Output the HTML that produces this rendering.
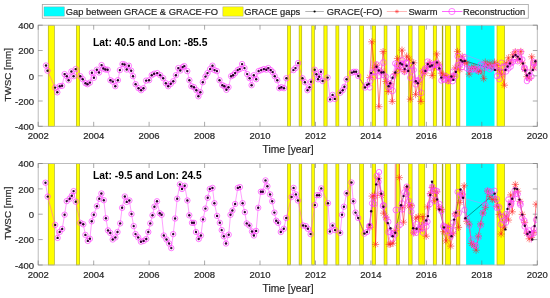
<!DOCTYPE html>
<html><head><meta charset="utf-8"><style>
html,body{margin:0;padding:0;background:#fff;width:550px;height:298px;overflow:hidden}
svg{display:block;will-change:transform}
.t{stroke:#262626;stroke-width:0.2px;font-family:"Liberation Sans",sans-serif;font-size:9.5px;fill:#262626}
.l{stroke:#262626;stroke-width:0.2px;font-family:"Liberation Sans",sans-serif;font-size:10.3px;fill:#262626}
.y{stroke:#262626;stroke-width:0.2px;font-family:"Liberation Sans",sans-serif;font-size:9.8px;fill:#262626}
.g{stroke:#262626;stroke-width:0.2px;font-family:"Liberation Sans",sans-serif;font-size:9.35px;fill:#262626}
.b{font-family:"Liberation Sans",sans-serif;font-size:10.3px;font-weight:bold;fill:#000}
</style></head><body>
<svg width="550" height="298" viewBox="0 0 550 298">
<rect x="48.2" y="25.2" width="6.1" height="101.1" fill="#ffff00" stroke="#8f8f00" stroke-width="0.5"/><rect x="76.4" y="25.2" width="3.3" height="101.1" fill="#ffff00" stroke="#8f8f00" stroke-width="0.5"/><rect x="287.5" y="25.2" width="3.2" height="101.1" fill="#ffff00" stroke="#8f8f00" stroke-width="0.5"/><rect x="299.1" y="25.2" width="2.7" height="101.1" fill="#ffff00" stroke="#8f8f00" stroke-width="0.5"/><rect x="311.8" y="25.2" width="2.6" height="101.1" fill="#ffff00" stroke="#8f8f00" stroke-width="0.5"/><rect x="323.9" y="25.2" width="3.2" height="101.1" fill="#ffff00" stroke="#8f8f00" stroke-width="0.5"/><rect x="335.9" y="25.2" width="3" height="101.1" fill="#ffff00" stroke="#8f8f00" stroke-width="0.5"/><rect x="347.5" y="25.2" width="3" height="101.1" fill="#ffff00" stroke="#8f8f00" stroke-width="0.5"/><rect x="359.7" y="25.2" width="3.9" height="101.1" fill="#ffff00" stroke="#8f8f00" stroke-width="0.5"/><rect x="372.1" y="25.2" width="3.6" height="101.1" fill="#ffff00" stroke="#8f8f00" stroke-width="0.5"/><rect x="384.1" y="25.2" width="2.9" height="101.1" fill="#ffff00" stroke="#8f8f00" stroke-width="0.5"/><rect x="396.4" y="25.2" width="3.1" height="101.1" fill="#ffff00" stroke="#8f8f00" stroke-width="0.5"/><rect x="408.6" y="25.2" width="3.5" height="101.1" fill="#ffff00" stroke="#8f8f00" stroke-width="0.5"/><rect x="418.8" y="25.2" width="6" height="101.1" fill="#ffff00" stroke="#8f8f00" stroke-width="0.5"/><rect x="433.2" y="25.2" width="3.2" height="101.1" fill="#ffff00" stroke="#8f8f00" stroke-width="0.5"/><rect x="441.9" y="25.2" width="1.3" height="101.1" fill="#a5a510"/><rect x="445.5" y="25.2" width="5" height="101.1" fill="#ffff00" stroke="#8f8f00" stroke-width="0.5"/><rect x="456.4" y="25.2" width="3.5" height="101.1" fill="#ffff00" stroke="#8f8f00" stroke-width="0.5"/><rect x="497" y="25.2" width="7.6" height="101.1" fill="#ffff00" stroke="#8f8f00" stroke-width="0.5"/><rect x="466.1" y="25.2" width="28.4" height="101.1" fill="#00ffff"/><clipPath id="c1"><rect x="38.2" y="25.2" width="499.1" height="101.1"/></clipPath><g clip-path="url(#c1)"><polyline points="356.1,71.8 358.3,76 365,87.5 367.1,84.8 368.7,83.9 371.1,73.1 376.5,66.8 378.8,70.5 381.5,72.5 383.5,72.2 388.6,86.2 390.2,83.2 392.6,77.8 395.3,72.5 400.3,63.3 402.1,64.4 404.7,69.1 406.6,65.8 408.2,70.9 413.3,62.8 415.8,81.2 417.8,83.2 425.4,70.9 427.8,64.1 429.9,66.4 431.9,65.5 437,62.4 439.3,68.4 441.3,77.6 451.4,76.5 453.4,79.9 455.8,71.9 460.8,60.1 462.5,61.4 464.8,60.9 494.9,69.9 505.5,69.9 507.6,66.5 509.9,63.4 513.1,56.8 515.5,55 517.6,56.6 519.7,59 523,63.4 525.2,70.5 526.9,75.4 529.5,73.2 532.8,69.9 535.4,61.2" fill="none" stroke="#000" stroke-width="0.4" /><polyline points="369.8,77.5 371.8,41.8 374.4,67.9 376.7,65.2 378.9,106.7 381.3,71.1 383.1,51.6 386,81.5 388.3,91.5 390.6,83.9 392.2,101.4 395.2,73.8 397.5,58.4 399.8,69.3 402,50.1 404.4,71.6 406.7,56.1 409.1,59.1 410.3,99.2 413.7,62.8 415.6,94.6 418.3,82.1 420.9,101.4 422.9,71.1 425.2,73 427.5,67.2 429.9,62.4 432.2,75.6 434.5,67.3 436.7,53.9 439.1,64.1 441.4,73.2 443.7,75.3 446,76.4 448.3,80.6 450.7,78.1 453,76.5 455.3,67.9 457.5,51.4 459.9,69.6 462.2,56.3 464.5,62.4 466.8,63.2 469.1,74.1 471.4,68.6 473.8,66.8 476.1,69 478.4,71.4 480.7,70.9 483.7,78.7 485.3,62.1 487.6,64.9 489.9,63.3 492.2,66.8 494.6,62.1 496.9,65.5 499.2,70.6 501.5,74.2 504.4,85.2 506.1,63.2 508.4,57.8 510.7,62.8 513,54.7 515.3,51.8 517.7,59.6 520.8,51.4 522.3,62.9 524.6,69.3 526.9,76.7 529.2,78.2 531.7,56.8 533.8,68 536.1,62.8" fill="none" stroke="#ff2a2a" stroke-width="0.6" /><path d="M366.2 77.5L373.4 77.5M367.2 75L372.3 80.1M369.8 73.9L369.8 81.1M372.3 75L367.2 80.1M368.2 41.8L375.4 41.8M369.3 39.3L374.3 44.3M371.8 38.2L371.8 45.4M374.3 39.3L369.3 44.3M370.8 67.9L378 67.9M371.9 65.3L376.9 70.4M374.4 64.3L374.4 71.5M376.9 65.3L371.9 70.4M373.1 65.2L380.3 65.2M374.2 62.7L379.3 67.8M376.7 61.6L376.7 68.8M379.3 62.7L374.2 67.8M375.3 106.7L382.5 106.7M376.4 104.2L381.4 109.2M378.9 103.1L378.9 110.3M381.4 104.2L376.4 109.2M377.7 71.1L384.9 71.1M378.8 68.5L383.9 73.6M381.3 67.5L381.3 74.7M383.9 68.5L378.8 73.6M379.5 51.6L386.7 51.6M380.6 49.1L385.6 54.1M383.1 48L383.1 55.2M385.6 49.1L380.6 54.1M382.4 81.5L389.6 81.5M383.4 78.9L388.5 84M386 77.9L386 85.1M388.5 78.9L383.4 84M384.7 91.5L391.9 91.5M385.7 89L390.8 94M388.3 87.9L388.3 95.1M390.8 89L385.7 94M387 83.9L394.2 83.9M388 81.3L393.1 86.4M390.6 80.3L390.6 87.5M393.1 81.3L388 86.4M388.6 101.4L395.8 101.4M389.7 98.9L394.7 103.9M392.2 97.8L392.2 105M394.7 98.9L389.7 103.9M391.6 73.8L398.8 73.8M392.6 71.3L397.7 76.4M395.2 70.2L395.2 77.4M397.7 71.3L392.6 76.4M393.9 58.4L401.1 58.4M395 55.9L400.1 61M397.5 54.8L397.5 62M400.1 55.9L395 61M396.2 69.3L403.4 69.3M397.3 66.8L402.4 71.9M399.8 65.7L399.8 72.9M402.4 66.8L397.3 71.9M398.4 50.1L405.6 50.1M399.5 47.6L404.5 52.6M402 46.5L402 53.7M404.5 47.6L399.5 52.6M400.8 71.6L408 71.6M401.9 69.1L407 74.2M404.4 68L404.4 75.2M407 69.1L401.9 74.2M403.1 56.1L410.3 56.1M404.2 53.6L409.3 58.7M406.7 52.5L406.7 59.7M409.3 53.6L404.2 58.7M405.5 59.1L412.7 59.1M406.5 56.5L411.6 61.6M409.1 55.5L409.1 62.7M411.6 56.5L406.5 61.6M406.7 99.2L413.9 99.2M407.8 96.7L412.8 101.7M410.3 95.6L410.3 102.8M412.8 96.7L407.8 101.7M410.1 62.8L417.3 62.8M411.1 60.2L416.2 65.3M413.7 59.2L413.7 66.4M416.2 60.2L411.1 65.3M412 94.6L419.2 94.6M413.1 92.1L418.1 97.1M415.6 91L415.6 98.2M418.1 92.1L413.1 97.1M414.7 82.1L421.9 82.1M415.8 79.6L420.8 84.7M418.3 78.5L418.3 85.7M420.8 79.6L415.8 84.7M417.3 101.4L424.5 101.4M418.4 98.9L423.4 103.9M420.9 97.8L420.9 105M423.4 98.9L418.4 103.9M419.3 71.1L426.5 71.1M420.4 68.5L425.5 73.6M422.9 67.5L422.9 74.7M425.5 68.5L420.4 73.6M421.6 73L428.8 73M422.7 70.5L427.8 75.6M425.2 69.4L425.2 76.6M427.8 70.5L422.7 75.6M423.9 67.2L431.1 67.2M425 64.6L430.1 69.7M427.5 63.6L427.5 70.8M430.1 64.6L425 69.7M426.3 62.4L433.5 62.4M427.3 59.8L432.4 64.9M429.9 58.8L429.9 66M432.4 59.8L427.3 64.9M428.6 75.6L435.8 75.6M429.6 73.1L434.7 78.2M432.2 72L432.2 79.2M434.7 73.1L429.6 78.2M430.9 67.3L438.1 67.3M431.9 64.7L437 69.8M434.5 63.7L434.5 70.9M437 64.7L431.9 69.8M433.1 53.9L440.3 53.9M434.2 51.4L439.2 56.4M436.7 50.3L436.7 57.5M439.2 51.4L434.2 56.4M435.5 64.1L442.7 64.1M436.6 61.6L441.6 66.7M439.1 60.5L439.1 67.7M441.6 61.6L436.6 66.7M437.8 73.2L445 73.2M438.9 70.6L444 75.7M441.4 69.6L441.4 76.8M444 70.6L438.9 75.7M440.1 75.3L447.3 75.3M441.2 72.7L446.3 77.8M443.7 71.7L443.7 78.9M446.3 72.7L441.2 77.8M442.4 76.4L449.6 76.4M443.5 73.9L448.6 79M446 72.8L446 80M448.6 73.9L443.5 79M444.7 80.6L451.9 80.6M445.8 78.1L450.9 83.2M448.3 77L448.3 84.2M450.9 78.1L445.8 83.2M447.1 78.1L454.3 78.1M448.1 75.5L453.2 80.6M450.7 74.5L450.7 81.7M453.2 75.5L448.1 80.6M449.4 76.5L456.6 76.5M450.4 73.9L455.5 79M453 72.9L453 80.1M455.5 73.9L450.4 79M451.7 67.9L458.9 67.9M452.7 65.4L457.8 70.5M455.3 64.3L455.3 71.5M457.8 65.4L452.7 70.5M453.9 51.4L461.1 51.4M455 48.9L460 53.9M457.5 47.8L457.5 55M460 48.9L455 53.9M456.3 69.6L463.5 69.6M457.3 67L462.4 72.1M459.9 66L459.9 73.2M462.4 67L457.3 72.1M458.6 56.3L465.8 56.3M459.7 53.8L464.7 58.9M462.2 52.7L462.2 59.9M464.7 53.8L459.7 58.9M460.9 62.4L468.1 62.4M462 59.9L467.1 65M464.5 58.8L464.5 66M467.1 59.9L462 65M463.2 63.2L470.4 63.2M464.3 60.7L469.4 65.8M466.8 59.6L466.8 66.8M469.4 60.7L464.3 65.8M465.5 74.1L472.7 74.1M466.6 71.5L471.7 76.6M469.1 70.5L469.1 77.7M471.7 71.5L466.6 76.6M467.8 68.6L475 68.6M468.9 66.1L474 71.2M471.4 65L471.4 72.2M474 66.1L468.9 71.2M470.2 66.8L477.4 66.8M471.2 64.2L476.3 69.3M473.8 63.2L473.8 70.4M476.3 64.2L471.2 69.3M472.5 69L479.7 69M473.5 66.4L478.6 71.5M476.1 65.4L476.1 72.6M478.6 66.4L473.5 71.5M474.8 71.4L482 71.4M475.8 68.8L480.9 73.9M478.4 67.8L478.4 75M480.9 68.8L475.8 73.9M477.1 70.9L484.3 70.9M478.1 68.4L483.2 73.5M480.7 67.3L480.7 74.5M483.2 68.4L478.1 73.5M480.1 78.7L487.3 78.7M481.2 76.2L486.2 81.2M483.7 75.1L483.7 82.3M486.2 76.2L481.2 81.2M481.7 62.1L488.9 62.1M482.8 59.6L487.9 64.7M485.3 58.5L485.3 65.7M487.9 59.6L482.8 64.7M484 64.9L491.2 64.9M485.1 62.4L490.2 67.5M487.6 61.3L487.6 68.5M490.2 62.4L485.1 67.5M486.3 63.3L493.5 63.3M487.4 60.8L492.5 65.8M489.9 59.7L489.9 66.9M492.5 60.8L487.4 65.8M488.6 66.8L495.8 66.8M489.7 64.3L494.8 69.3M492.2 63.2L492.2 70.4M494.8 64.3L489.7 69.3M491 62.1L498.2 62.1M492 59.6L497.1 64.7M494.6 58.5L494.6 65.7M497.1 59.6L492 64.7M493.3 65.5L500.5 65.5M494.3 63L499.4 68.1M496.9 61.9L496.9 69.1M499.4 63L494.3 68.1M495.6 70.6L502.8 70.6M496.6 68.1L501.7 73.2M499.2 67L499.2 74.2M501.7 68.1L496.6 73.2M497.9 74.2L505.1 74.2M498.9 71.7L504 76.8M501.5 70.6L501.5 77.8M504 71.7L498.9 76.8M500.8 85.2L508 85.2M501.9 82.7L506.9 87.7M504.4 81.6L504.4 88.8M506.9 82.7L501.9 87.7M502.5 63.2L509.7 63.2M503.6 60.7L508.7 65.8M506.1 59.6L506.1 66.8M508.7 60.7L503.6 65.8M504.8 57.8L512 57.8M505.9 55.3L511 60.4M508.4 54.2L508.4 61.4M511 55.3L505.9 60.4M507.1 62.8L514.3 62.8M508.2 60.2L513.3 65.3M510.7 59.2L510.7 66.4M513.3 60.2L508.2 65.3M509.4 54.7L516.6 54.7M510.5 52.2L515.6 57.3M513 51.1L513 58.3M515.6 52.2L510.5 57.3M511.7 51.8L518.9 51.8M512.8 49.2L517.9 54.3M515.3 48.2L515.3 55.4M517.9 49.2L512.8 54.3M514.1 59.6L521.3 59.6M515.1 57.1L520.2 62.1M517.7 56L517.7 63.2M520.2 57.1L515.1 62.1M517.2 51.4L524.4 51.4M518.3 48.9L523.3 53.9M520.8 47.8L520.8 55M523.3 48.9L518.3 53.9M518.7 62.9L525.9 62.9M519.7 60.4L524.8 65.5M522.3 59.3L522.3 66.5M524.8 60.4L519.7 65.5M521 69.3L528.2 69.3M522 66.7L527.1 71.8M524.6 65.7L524.6 72.9M527.1 66.7L522 71.8M523.3 76.7L530.5 76.7M524.4 74.2L529.4 79.2M526.9 73.1L526.9 80.3M529.4 74.2L524.4 79.2M525.6 78.2L532.8 78.2M526.7 75.7L531.8 80.8M529.2 74.6L529.2 81.8M531.8 75.7L526.7 80.8M528.1 56.8L535.3 56.8M529.2 54.3L534.2 59.3M531.7 53.2L531.7 60.4M534.2 54.3L529.2 59.3M530.2 68L537.4 68M531.3 65.5L536.4 70.5M533.8 64.4L533.8 71.6M536.4 65.5L531.3 70.5M532.5 62.8L539.7 62.8M533.6 60.3L538.7 65.4M536.1 59.2L536.1 66.4M538.7 60.3L533.6 65.4" stroke="#ff2a2a" stroke-width="0.6" fill="none"/><polyline points="370.2,80.5 371.8,60.6 374.9,71.5 376.5,65.4 378.8,75.7 381,72.1 383.4,62.6 386.2,74.5 388.4,86.8 390.4,85.4 392.5,90.7 395.4,74.2 397.3,64.7 399.9,66.8 401.8,64.1 404.9,69.2 406.5,62.9 409.1,65.5 410.5,77.5 413.6,65.1 415.7,84.1 418.6,77.8 421.1,92.8 422.7,77.1 425.3,68.6 427.2,69.4 429.6,64.6 432.5,71.7 434.6,64 437.2,61.3 439.1,66.8 441.6,81 444.2,79.1 446.3,78.8 448.7,79.3 450.4,76.8 452.6,80.9 455.4,78.6 457.9,56.3 459.8,69.9 462,60.2 464.1,54.5 497,66.4 499,68.8 501.1,72.5 504.5,79 506.3,66.5 508.2,62.4 510.9,63.2 512.7,58.3 515.6,52.6 517.3,57.7 520.7,52.3 521.9,61.3 524.3,67.8 526.7,73.1 529,78.1 531.8,63.9 533.7,62 536.6,64.9" fill="none" stroke="#ff60ff" stroke-width="0.4" /><polyline points="46,65.5 47.5,70.7 55.1,87.6 57.3,92.3 59.7,86.2 62.1,85.8 64.6,74.1 66.8,76.2 68.6,80.2 71.4,71.5 73.6,76.2 75.6,69.1 80.3,76.2 82.7,79.2 85.5,83.2 87.5,84.2 89.9,82.6 91.9,72.7 93.9,77.8 96.8,69.7 99,72.5 101.6,65.1 103.4,68.5 105.4,69.5 107.6,69.7 110.4,80.2 112.8,81.6 115.3,86.2 117.9,80.2 119.9,70.1 122.5,64.1 124.5,64.5 126.7,69.5 128.9,65.7 131.2,70.7 133,76.2 135.6,84.2 138.5,88.2 141.1,90.2 143.5,88.2 146.1,80.6 149.1,80.2 151.7,75.2 154.1,73.7 157.2,73.1 160.2,75.2 163.2,78.2 165.8,83.2 168.2,86.2 170.8,83.8 173.3,81.2 175.9,75.2 178.3,68.1 180.3,70.5 182.7,67.1 184.3,66.1 187.3,71.1 189.4,80.2 191.4,86.2 194,87.2 196.4,90.2 198.4,96.3 200.4,92.3 202.8,82.2 205.5,76.6 207.5,73.1 210.1,69.1 212.5,65.7 214.5,70.1 216.9,71.1 219.5,80.2 222.4,85.2 224.4,86.2 226.4,89.8 228.5,87.2 231.1,76.2 233.1,75.2 235.1,73.1 237.7,70.1 239.7,69.1 242.1,64.1 244.5,68.1 247.2,74.1 249.6,78.2 251.6,85.2 253.8,75.2 256.2,79.2 258.6,71.1 261.2,70.1 263.9,69.1 266.3,69.7 268.3,68.1 270.7,70.1 272.7,72.1 274.7,76.2 277.3,80.2 279.4,88.2 281.4,87.2 284,88.2 286.4,78.2 293.4,70.1 295.5,68.1 298.1,63.1 302.5,78.2 304.9,82.2 307.5,90.2 309.5,87.2 311,81.8 314.7,69.7 316.4,74.3 318,79.3 319.2,76.8 320.9,71.8 322.6,81 327.6,77.6 330.1,99.4 332.6,94.9 334.8,98.9 340.2,92.7 342.7,90.2 344.4,86.8 346.5,79.3 351.9,72.6 353.9,71.8 356.1,71.8 358.3,76 365,87.5 367.1,84.8 369.8,87.5 372.1,72.5 374.4,76.5 376.7,64.4 379,70.4 381.3,72.5 383.6,75.1 386,76.6 388.3,82.8 390.6,85.4 392.9,76.7 395.2,63.5 397.5,70.2 399.8,66.2 402.1,60.1 404.4,71.7 406.7,63.2 409.1,70.6 411.4,65.8 413.7,70 416,80.8 418.3,80.1 420.6,77.8 422.9,72 425.2,69.8 427.5,61.5 429.9,67.8 432.2,65.2 434.5,64.8 436.8,63.1 439.1,67.9 441.4,80.5 443.7,79.6 446,76.3 448.3,81.2 450.7,77.4 453,71.6 455.3,76.1 457.6,65.2 459.9,64.3 462.2,67.2 464.5,57.1 466.8,68.4 469.1,69.3 471.4,69.4 473.8,69.7 476.1,69 478.4,70.7 480.7,64.5 483,64.8 485.3,67.7 487.6,66.3 489.9,69.3 492.2,67.6 494.6,67.2 496.9,76.1 499.2,79.2 501.5,62.7 503.8,66.9 506.1,71.5 508.4,68.5 510.7,66.7 513,61.7 515.3,58.8 517.7,61.3 520,58.7 522.3,59.4 524.6,68.6 526.9,81.1 529.2,72.5 531.5,76.5 533.8,63.6 536.1,67.3" fill="none" stroke="#ff40ff" stroke-width="0.5" /><g fill="none" stroke="#ff40ff" stroke-width="0.7"><circle cx="46" cy="65.5" r="2.7"/><circle cx="47.5" cy="70.7" r="2.7"/><circle cx="55.1" cy="87.6" r="2.7"/><circle cx="57.3" cy="92.3" r="2.7"/><circle cx="59.7" cy="86.2" r="2.7"/><circle cx="62.1" cy="85.8" r="2.7"/><circle cx="64.6" cy="74.1" r="2.7"/><circle cx="66.8" cy="76.2" r="2.7"/><circle cx="68.6" cy="80.2" r="2.7"/><circle cx="71.4" cy="71.5" r="2.7"/><circle cx="73.6" cy="76.2" r="2.7"/><circle cx="75.6" cy="69.1" r="2.7"/><circle cx="80.3" cy="76.2" r="2.7"/><circle cx="82.7" cy="79.2" r="2.7"/><circle cx="85.5" cy="83.2" r="2.7"/><circle cx="87.5" cy="84.2" r="2.7"/><circle cx="89.9" cy="82.6" r="2.7"/><circle cx="91.9" cy="72.7" r="2.7"/><circle cx="93.9" cy="77.8" r="2.7"/><circle cx="96.8" cy="69.7" r="2.7"/><circle cx="99" cy="72.5" r="2.7"/><circle cx="101.6" cy="65.1" r="2.7"/><circle cx="103.4" cy="68.5" r="2.7"/><circle cx="105.4" cy="69.5" r="2.7"/><circle cx="107.6" cy="69.7" r="2.7"/><circle cx="110.4" cy="80.2" r="2.7"/><circle cx="112.8" cy="81.6" r="2.7"/><circle cx="115.3" cy="86.2" r="2.7"/><circle cx="117.9" cy="80.2" r="2.7"/><circle cx="119.9" cy="70.1" r="2.7"/><circle cx="122.5" cy="64.1" r="2.7"/><circle cx="124.5" cy="64.5" r="2.7"/><circle cx="126.7" cy="69.5" r="2.7"/><circle cx="128.9" cy="65.7" r="2.7"/><circle cx="131.2" cy="70.7" r="2.7"/><circle cx="133" cy="76.2" r="2.7"/><circle cx="135.6" cy="84.2" r="2.7"/><circle cx="138.5" cy="88.2" r="2.7"/><circle cx="141.1" cy="90.2" r="2.7"/><circle cx="143.5" cy="88.2" r="2.7"/><circle cx="146.1" cy="80.6" r="2.7"/><circle cx="149.1" cy="80.2" r="2.7"/><circle cx="151.7" cy="75.2" r="2.7"/><circle cx="154.1" cy="73.7" r="2.7"/><circle cx="157.2" cy="73.1" r="2.7"/><circle cx="160.2" cy="75.2" r="2.7"/><circle cx="163.2" cy="78.2" r="2.7"/><circle cx="165.8" cy="83.2" r="2.7"/><circle cx="168.2" cy="86.2" r="2.7"/><circle cx="170.8" cy="83.8" r="2.7"/><circle cx="173.3" cy="81.2" r="2.7"/><circle cx="175.9" cy="75.2" r="2.7"/><circle cx="178.3" cy="68.1" r="2.7"/><circle cx="180.3" cy="70.5" r="2.7"/><circle cx="182.7" cy="67.1" r="2.7"/><circle cx="184.3" cy="66.1" r="2.7"/><circle cx="187.3" cy="71.1" r="2.7"/><circle cx="189.4" cy="80.2" r="2.7"/><circle cx="191.4" cy="86.2" r="2.7"/><circle cx="194" cy="87.2" r="2.7"/><circle cx="196.4" cy="90.2" r="2.7"/><circle cx="198.4" cy="96.3" r="2.7"/><circle cx="200.4" cy="92.3" r="2.7"/><circle cx="202.8" cy="82.2" r="2.7"/><circle cx="205.5" cy="76.6" r="2.7"/><circle cx="207.5" cy="73.1" r="2.7"/><circle cx="210.1" cy="69.1" r="2.7"/><circle cx="212.5" cy="65.7" r="2.7"/><circle cx="214.5" cy="70.1" r="2.7"/><circle cx="216.9" cy="71.1" r="2.7"/><circle cx="219.5" cy="80.2" r="2.7"/><circle cx="222.4" cy="85.2" r="2.7"/><circle cx="224.4" cy="86.2" r="2.7"/><circle cx="226.4" cy="89.8" r="2.7"/><circle cx="228.5" cy="87.2" r="2.7"/><circle cx="231.1" cy="76.2" r="2.7"/><circle cx="233.1" cy="75.2" r="2.7"/><circle cx="235.1" cy="73.1" r="2.7"/><circle cx="237.7" cy="70.1" r="2.7"/><circle cx="239.7" cy="69.1" r="2.7"/><circle cx="242.1" cy="64.1" r="2.7"/><circle cx="244.5" cy="68.1" r="2.7"/><circle cx="247.2" cy="74.1" r="2.7"/><circle cx="249.6" cy="78.2" r="2.7"/><circle cx="251.6" cy="85.2" r="2.7"/><circle cx="253.8" cy="75.2" r="2.7"/><circle cx="256.2" cy="79.2" r="2.7"/><circle cx="258.6" cy="71.1" r="2.7"/><circle cx="261.2" cy="70.1" r="2.7"/><circle cx="263.9" cy="69.1" r="2.7"/><circle cx="266.3" cy="69.7" r="2.7"/><circle cx="268.3" cy="68.1" r="2.7"/><circle cx="270.7" cy="70.1" r="2.7"/><circle cx="272.7" cy="72.1" r="2.7"/><circle cx="274.7" cy="76.2" r="2.7"/><circle cx="277.3" cy="80.2" r="2.7"/><circle cx="279.4" cy="88.2" r="2.7"/><circle cx="281.4" cy="87.2" r="2.7"/><circle cx="284" cy="88.2" r="2.7"/><circle cx="286.4" cy="78.2" r="2.7"/><circle cx="293.4" cy="70.1" r="2.7"/><circle cx="295.5" cy="68.1" r="2.7"/><circle cx="298.1" cy="63.1" r="2.7"/><circle cx="302.5" cy="78.2" r="2.7"/><circle cx="304.9" cy="82.2" r="2.7"/><circle cx="307.5" cy="90.2" r="2.7"/><circle cx="309.5" cy="87.2" r="2.7"/><circle cx="311" cy="81.8" r="2.7"/><circle cx="314.7" cy="69.7" r="2.7"/><circle cx="316.4" cy="74.3" r="2.7"/><circle cx="318" cy="79.3" r="2.7"/><circle cx="319.2" cy="76.8" r="2.7"/><circle cx="320.9" cy="71.8" r="2.7"/><circle cx="322.6" cy="81" r="2.7"/><circle cx="327.6" cy="77.6" r="2.7"/><circle cx="330.1" cy="99.4" r="2.7"/><circle cx="332.6" cy="94.9" r="2.7"/><circle cx="334.8" cy="98.9" r="2.7"/><circle cx="340.2" cy="92.7" r="2.7"/><circle cx="342.7" cy="90.2" r="2.7"/><circle cx="344.4" cy="86.8" r="2.7"/><circle cx="346.5" cy="79.3" r="2.7"/><circle cx="351.9" cy="72.6" r="2.7"/><circle cx="353.9" cy="71.8" r="2.7"/><circle cx="356.1" cy="71.8" r="2.7"/><circle cx="358.3" cy="76" r="2.7"/><circle cx="365" cy="87.5" r="2.7"/><circle cx="367.1" cy="84.8" r="2.7"/><circle cx="369.8" cy="87.5" r="2.7"/><circle cx="372.1" cy="72.5" r="2.7"/><circle cx="374.4" cy="76.5" r="2.7"/><circle cx="376.7" cy="64.4" r="2.7"/><circle cx="379" cy="70.4" r="2.7"/><circle cx="381.3" cy="72.5" r="2.7"/><circle cx="383.6" cy="75.1" r="2.7"/><circle cx="386" cy="76.6" r="2.7"/><circle cx="388.3" cy="82.8" r="2.7"/><circle cx="390.6" cy="85.4" r="2.7"/><circle cx="392.9" cy="76.7" r="2.7"/><circle cx="395.2" cy="63.5" r="2.7"/><circle cx="397.5" cy="70.2" r="2.7"/><circle cx="399.8" cy="66.2" r="2.7"/><circle cx="402.1" cy="60.1" r="2.7"/><circle cx="404.4" cy="71.7" r="2.7"/><circle cx="406.7" cy="63.2" r="2.7"/><circle cx="409.1" cy="70.6" r="2.7"/><circle cx="411.4" cy="65.8" r="2.7"/><circle cx="413.7" cy="70" r="2.7"/><circle cx="416" cy="80.8" r="2.7"/><circle cx="418.3" cy="80.1" r="2.7"/><circle cx="420.6" cy="77.8" r="2.7"/><circle cx="422.9" cy="72" r="2.7"/><circle cx="425.2" cy="69.8" r="2.7"/><circle cx="427.5" cy="61.5" r="2.7"/><circle cx="429.9" cy="67.8" r="2.7"/><circle cx="432.2" cy="65.2" r="2.7"/><circle cx="434.5" cy="64.8" r="2.7"/><circle cx="436.8" cy="63.1" r="2.7"/><circle cx="439.1" cy="67.9" r="2.7"/><circle cx="441.4" cy="80.5" r="2.7"/><circle cx="443.7" cy="79.6" r="2.7"/><circle cx="446" cy="76.3" r="2.7"/><circle cx="448.3" cy="81.2" r="2.7"/><circle cx="450.7" cy="77.4" r="2.7"/><circle cx="453" cy="71.6" r="2.7"/><circle cx="455.3" cy="76.1" r="2.7"/><circle cx="457.6" cy="65.2" r="2.7"/><circle cx="459.9" cy="64.3" r="2.7"/><circle cx="462.2" cy="67.2" r="2.7"/><circle cx="464.5" cy="57.1" r="2.7"/><circle cx="466.8" cy="68.4" r="2.7"/><circle cx="469.1" cy="69.3" r="2.7"/><circle cx="471.4" cy="69.4" r="2.7"/><circle cx="473.8" cy="69.7" r="2.7"/><circle cx="476.1" cy="69" r="2.7"/><circle cx="478.4" cy="70.7" r="2.7"/><circle cx="480.7" cy="64.5" r="2.7"/><circle cx="483" cy="64.8" r="2.7"/><circle cx="485.3" cy="67.7" r="2.7"/><circle cx="487.6" cy="66.3" r="2.7"/><circle cx="489.9" cy="69.3" r="2.7"/><circle cx="492.2" cy="67.6" r="2.7"/><circle cx="494.6" cy="67.2" r="2.7"/><circle cx="496.9" cy="76.1" r="2.7"/><circle cx="499.2" cy="79.2" r="2.7"/><circle cx="501.5" cy="62.7" r="2.7"/><circle cx="503.8" cy="66.9" r="2.7"/><circle cx="506.1" cy="71.5" r="2.7"/><circle cx="508.4" cy="68.5" r="2.7"/><circle cx="510.7" cy="66.7" r="2.7"/><circle cx="513" cy="61.7" r="2.7"/><circle cx="515.3" cy="58.8" r="2.7"/><circle cx="517.7" cy="61.3" r="2.7"/><circle cx="520" cy="58.7" r="2.7"/><circle cx="522.3" cy="59.4" r="2.7"/><circle cx="524.6" cy="68.6" r="2.7"/><circle cx="526.9" cy="81.1" r="2.7"/><circle cx="529.2" cy="72.5" r="2.7"/><circle cx="531.5" cy="76.5" r="2.7"/><circle cx="533.8" cy="63.6" r="2.7"/><circle cx="536.1" cy="67.3" r="2.7"/><circle cx="370.2" cy="80.5" r="3.0"/><circle cx="374.9" cy="71.5" r="3.0"/><circle cx="378.8" cy="75.7" r="3.0"/><circle cx="383.4" cy="62.6" r="3.0"/><circle cx="388.4" cy="86.8" r="3.0"/><circle cx="392.5" cy="90.7" r="3.0"/><circle cx="397.3" cy="64.7" r="3.0"/><circle cx="401.8" cy="64.1" r="3.0"/><circle cx="406.5" cy="62.9" r="3.0"/><circle cx="410.5" cy="77.5" r="3.0"/><circle cx="415.7" cy="84.1" r="3.0"/><circle cx="421.1" cy="92.8" r="3.0"/><circle cx="425.3" cy="68.6" r="3.0"/><circle cx="429.6" cy="64.6" r="3.0"/><circle cx="434.6" cy="64" r="3.0"/><circle cx="439.1" cy="66.8" r="3.0"/><circle cx="444.2" cy="79.1" r="3.0"/><circle cx="448.7" cy="79.3" r="3.0"/><circle cx="452.6" cy="80.9" r="3.0"/><circle cx="457.9" cy="56.3" r="3.0"/><circle cx="462" cy="60.2" r="3.0"/><circle cx="497" cy="66.4" r="3.0"/><circle cx="501.1" cy="72.5" r="3.0"/><circle cx="506.3" cy="66.5" r="3.0"/><circle cx="510.9" cy="63.2" r="3.0"/><circle cx="515.6" cy="52.6" r="3.0"/><circle cx="520.7" cy="52.3" r="3.0"/><circle cx="524.3" cy="67.8" r="3.0"/><circle cx="529" cy="78.1" r="3.0"/><circle cx="533.7" cy="62" r="3.0"/></g><g fill="#2a002a"><circle cx="46" cy="65.5" r="1.2"/><circle cx="47.5" cy="70.7" r="1.2"/><circle cx="55.1" cy="87.6" r="1.2"/><circle cx="57.3" cy="92.3" r="1.2"/><circle cx="59.7" cy="86.2" r="1.2"/><circle cx="62.1" cy="85.8" r="1.2"/><circle cx="64.6" cy="74.1" r="1.2"/><circle cx="66.8" cy="76.2" r="1.2"/><circle cx="68.6" cy="80.2" r="1.2"/><circle cx="71.4" cy="71.5" r="1.2"/><circle cx="73.6" cy="76.2" r="1.2"/><circle cx="75.6" cy="69.1" r="1.2"/><circle cx="80.3" cy="76.2" r="1.2"/><circle cx="82.7" cy="79.2" r="1.2"/><circle cx="85.5" cy="83.2" r="1.2"/><circle cx="87.5" cy="84.2" r="1.2"/><circle cx="89.9" cy="82.6" r="1.2"/><circle cx="91.9" cy="72.7" r="1.2"/><circle cx="93.9" cy="77.8" r="1.2"/><circle cx="96.8" cy="69.7" r="1.2"/><circle cx="99" cy="72.5" r="1.2"/><circle cx="101.6" cy="65.1" r="1.2"/><circle cx="103.4" cy="68.5" r="1.2"/><circle cx="105.4" cy="69.5" r="1.2"/><circle cx="107.6" cy="69.7" r="1.2"/><circle cx="110.4" cy="80.2" r="1.2"/><circle cx="112.8" cy="81.6" r="1.2"/><circle cx="115.3" cy="86.2" r="1.2"/><circle cx="117.9" cy="80.2" r="1.2"/><circle cx="119.9" cy="70.1" r="1.2"/><circle cx="122.5" cy="64.1" r="1.2"/><circle cx="124.5" cy="64.5" r="1.2"/><circle cx="126.7" cy="69.5" r="1.2"/><circle cx="128.9" cy="65.7" r="1.2"/><circle cx="131.2" cy="70.7" r="1.2"/><circle cx="133" cy="76.2" r="1.2"/><circle cx="135.6" cy="84.2" r="1.2"/><circle cx="138.5" cy="88.2" r="1.2"/><circle cx="141.1" cy="90.2" r="1.2"/><circle cx="143.5" cy="88.2" r="1.2"/><circle cx="146.1" cy="80.6" r="1.2"/><circle cx="149.1" cy="80.2" r="1.2"/><circle cx="151.7" cy="75.2" r="1.2"/><circle cx="154.1" cy="73.7" r="1.2"/><circle cx="157.2" cy="73.1" r="1.2"/><circle cx="160.2" cy="75.2" r="1.2"/><circle cx="163.2" cy="78.2" r="1.2"/><circle cx="165.8" cy="83.2" r="1.2"/><circle cx="168.2" cy="86.2" r="1.2"/><circle cx="170.8" cy="83.8" r="1.2"/><circle cx="173.3" cy="81.2" r="1.2"/><circle cx="175.9" cy="75.2" r="1.2"/><circle cx="178.3" cy="68.1" r="1.2"/><circle cx="180.3" cy="70.5" r="1.2"/><circle cx="182.7" cy="67.1" r="1.2"/><circle cx="184.3" cy="66.1" r="1.2"/><circle cx="187.3" cy="71.1" r="1.2"/><circle cx="189.4" cy="80.2" r="1.2"/><circle cx="191.4" cy="86.2" r="1.2"/><circle cx="194" cy="87.2" r="1.2"/><circle cx="196.4" cy="90.2" r="1.2"/><circle cx="198.4" cy="96.3" r="1.2"/><circle cx="200.4" cy="92.3" r="1.2"/><circle cx="202.8" cy="82.2" r="1.2"/><circle cx="205.5" cy="76.6" r="1.2"/><circle cx="207.5" cy="73.1" r="1.2"/><circle cx="210.1" cy="69.1" r="1.2"/><circle cx="212.5" cy="65.7" r="1.2"/><circle cx="214.5" cy="70.1" r="1.2"/><circle cx="216.9" cy="71.1" r="1.2"/><circle cx="219.5" cy="80.2" r="1.2"/><circle cx="222.4" cy="85.2" r="1.2"/><circle cx="224.4" cy="86.2" r="1.2"/><circle cx="226.4" cy="89.8" r="1.2"/><circle cx="228.5" cy="87.2" r="1.2"/><circle cx="231.1" cy="76.2" r="1.2"/><circle cx="233.1" cy="75.2" r="1.2"/><circle cx="235.1" cy="73.1" r="1.2"/><circle cx="237.7" cy="70.1" r="1.2"/><circle cx="239.7" cy="69.1" r="1.2"/><circle cx="242.1" cy="64.1" r="1.2"/><circle cx="244.5" cy="68.1" r="1.2"/><circle cx="247.2" cy="74.1" r="1.2"/><circle cx="249.6" cy="78.2" r="1.2"/><circle cx="251.6" cy="85.2" r="1.2"/><circle cx="253.8" cy="75.2" r="1.2"/><circle cx="256.2" cy="79.2" r="1.2"/><circle cx="258.6" cy="71.1" r="1.2"/><circle cx="261.2" cy="70.1" r="1.2"/><circle cx="263.9" cy="69.1" r="1.2"/><circle cx="266.3" cy="69.7" r="1.2"/><circle cx="268.3" cy="68.1" r="1.2"/><circle cx="270.7" cy="70.1" r="1.2"/><circle cx="272.7" cy="72.1" r="1.2"/><circle cx="274.7" cy="76.2" r="1.2"/><circle cx="277.3" cy="80.2" r="1.2"/><circle cx="279.4" cy="88.2" r="1.2"/><circle cx="281.4" cy="87.2" r="1.2"/><circle cx="284" cy="88.2" r="1.2"/><circle cx="286.4" cy="78.2" r="1.2"/><circle cx="293.4" cy="70.1" r="1.2"/><circle cx="295.5" cy="68.1" r="1.2"/><circle cx="298.1" cy="63.1" r="1.2"/><circle cx="302.5" cy="78.2" r="1.2"/><circle cx="304.9" cy="82.2" r="1.2"/><circle cx="307.5" cy="90.2" r="1.2"/><circle cx="309.5" cy="87.2" r="1.2"/><circle cx="311" cy="81.8" r="1.2"/><circle cx="314.7" cy="69.7" r="1.2"/><circle cx="316.4" cy="74.3" r="1.2"/><circle cx="318" cy="79.3" r="1.2"/><circle cx="319.2" cy="76.8" r="1.2"/><circle cx="320.9" cy="71.8" r="1.2"/><circle cx="322.6" cy="81" r="1.2"/><circle cx="327.6" cy="77.6" r="1.2"/><circle cx="330.1" cy="99.4" r="1.2"/><circle cx="332.6" cy="94.9" r="1.2"/><circle cx="334.8" cy="98.9" r="1.2"/><circle cx="340.2" cy="92.7" r="1.2"/><circle cx="342.7" cy="90.2" r="1.2"/><circle cx="344.4" cy="86.8" r="1.2"/><circle cx="346.5" cy="79.3" r="1.2"/><circle cx="351.9" cy="72.6" r="1.2"/><circle cx="353.9" cy="71.8" r="1.2"/><circle cx="356.1" cy="71.8" r="1.2"/><circle cx="358.3" cy="76" r="1.2"/><circle cx="365" cy="87.5" r="1.2"/><circle cx="367.1" cy="84.8" r="1.2"/><circle cx="368.7" cy="83.9" r="1.2"/><circle cx="371.1" cy="73.1" r="1.2"/><circle cx="376.5" cy="66.8" r="1.2"/><circle cx="378.8" cy="70.5" r="1.2"/><circle cx="381.5" cy="72.5" r="1.2"/><circle cx="383.5" cy="72.2" r="1.2"/><circle cx="388.6" cy="86.2" r="1.2"/><circle cx="390.2" cy="83.2" r="1.2"/><circle cx="392.6" cy="77.8" r="1.2"/><circle cx="395.3" cy="72.5" r="1.2"/><circle cx="400.3" cy="63.3" r="1.2"/><circle cx="402.1" cy="64.4" r="1.2"/><circle cx="404.7" cy="69.1" r="1.2"/><circle cx="406.6" cy="65.8" r="1.2"/><circle cx="408.2" cy="70.9" r="1.2"/><circle cx="413.3" cy="62.8" r="1.2"/><circle cx="415.8" cy="81.2" r="1.2"/><circle cx="417.8" cy="83.2" r="1.2"/><circle cx="425.4" cy="70.9" r="1.2"/><circle cx="427.8" cy="64.1" r="1.2"/><circle cx="429.9" cy="66.4" r="1.2"/><circle cx="431.9" cy="65.5" r="1.2"/><circle cx="437" cy="62.4" r="1.2"/><circle cx="439.3" cy="68.4" r="1.2"/><circle cx="441.3" cy="77.6" r="1.2"/><circle cx="451.4" cy="76.5" r="1.2"/><circle cx="453.4" cy="79.9" r="1.2"/><circle cx="455.8" cy="71.9" r="1.2"/><circle cx="460.8" cy="60.1" r="1.2"/><circle cx="462.5" cy="61.4" r="1.2"/><circle cx="464.8" cy="60.9" r="1.2"/><circle cx="494.9" cy="69.9" r="1.2"/><circle cx="505.5" cy="69.9" r="1.2"/><circle cx="507.6" cy="66.5" r="1.2"/><circle cx="509.9" cy="63.4" r="1.2"/><circle cx="513.1" cy="56.8" r="1.2"/><circle cx="515.5" cy="55" r="1.2"/><circle cx="517.6" cy="56.6" r="1.2"/><circle cx="519.7" cy="59" r="1.2"/><circle cx="523" cy="63.4" r="1.2"/><circle cx="525.2" cy="70.5" r="1.2"/><circle cx="526.9" cy="75.4" r="1.2"/><circle cx="529.5" cy="73.2" r="1.2"/><circle cx="532.8" cy="69.9" r="1.2"/><circle cx="535.4" cy="61.2" r="1.2"/></g></g><rect x="38.2" y="25.2" width="499.1" height="101.1" fill="none" stroke="#b4b4b4" stroke-width="0.9"/><path d="M38.2 126.3v-4.5M38.2 25.2v4.5M93.7 126.3v-4.5M93.7 25.2v4.5M149.1 126.3v-4.5M149.1 25.2v4.5M204.6 126.3v-4.5M204.6 25.2v4.5M260 126.3v-4.5M260 25.2v4.5M315.5 126.3v-4.5M315.5 25.2v4.5M370.9 126.3v-4.5M370.9 25.2v4.5M426.4 126.3v-4.5M426.4 25.2v4.5M481.8 126.3v-4.5M481.8 25.2v4.5M537.3 126.3v-4.5M537.3 25.2v4.5M38.2 25.2h4.5M537.3 25.2h-4.5M38.2 50.5h4.5M537.3 50.5h-4.5M38.2 75.8h4.5M537.3 75.8h-4.5M38.2 101h4.5M537.3 101h-4.5M38.2 126.3h4.5M537.3 126.3h-4.5" stroke="#707070" stroke-width="0.6" fill="none"/><text x="34" y="28.9" text-anchor="end" class="t">400</text><text x="34" y="54.2" text-anchor="end" class="t">200</text><text x="34" y="79.5" text-anchor="end" class="t">0</text><text x="34" y="104.7" text-anchor="end" class="t">-200</text><text x="34" y="130" text-anchor="end" class="t">-400</text><text x="38.2" y="138.9" text-anchor="middle" class="t">2002</text><text x="93.7" y="138.9" text-anchor="middle" class="t">2004</text><text x="149.1" y="138.9" text-anchor="middle" class="t">2006</text><text x="204.6" y="138.9" text-anchor="middle" class="t">2008</text><text x="260" y="138.9" text-anchor="middle" class="t">2010</text><text x="315.5" y="138.9" text-anchor="middle" class="t">2012</text><text x="370.9" y="138.9" text-anchor="middle" class="t">2014</text><text x="426.4" y="138.9" text-anchor="middle" class="t">2016</text><text x="481.8" y="138.9" text-anchor="middle" class="t">2018</text><text x="537.3" y="138.9" text-anchor="middle" class="t">2020</text><text x="262.5" y="153.1" class="l">Time [year]</text><text transform="translate(10.5,74.8) rotate(-90)" text-anchor="middle" class="y">TWSC [mm]</text><text x="93" y="46.1" class="b">Lat: 40.5 and Lon: -85.5</text>
<rect x="48.2" y="163.5" width="6.1" height="101.5" fill="#ffff00" stroke="#8f8f00" stroke-width="0.5"/><rect x="76.4" y="163.5" width="3.3" height="101.5" fill="#ffff00" stroke="#8f8f00" stroke-width="0.5"/><rect x="287.5" y="163.5" width="3.2" height="101.5" fill="#ffff00" stroke="#8f8f00" stroke-width="0.5"/><rect x="299.1" y="163.5" width="2.7" height="101.5" fill="#ffff00" stroke="#8f8f00" stroke-width="0.5"/><rect x="311.8" y="163.5" width="2.6" height="101.5" fill="#ffff00" stroke="#8f8f00" stroke-width="0.5"/><rect x="323.9" y="163.5" width="3.2" height="101.5" fill="#ffff00" stroke="#8f8f00" stroke-width="0.5"/><rect x="335.9" y="163.5" width="3" height="101.5" fill="#ffff00" stroke="#8f8f00" stroke-width="0.5"/><rect x="347.5" y="163.5" width="3" height="101.5" fill="#ffff00" stroke="#8f8f00" stroke-width="0.5"/><rect x="359.7" y="163.5" width="3.9" height="101.5" fill="#ffff00" stroke="#8f8f00" stroke-width="0.5"/><rect x="372.1" y="163.5" width="3.6" height="101.5" fill="#ffff00" stroke="#8f8f00" stroke-width="0.5"/><rect x="384.1" y="163.5" width="2.9" height="101.5" fill="#ffff00" stroke="#8f8f00" stroke-width="0.5"/><rect x="396.4" y="163.5" width="3.1" height="101.5" fill="#ffff00" stroke="#8f8f00" stroke-width="0.5"/><rect x="408.6" y="163.5" width="3.5" height="101.5" fill="#ffff00" stroke="#8f8f00" stroke-width="0.5"/><rect x="418.8" y="163.5" width="6" height="101.5" fill="#ffff00" stroke="#8f8f00" stroke-width="0.5"/><rect x="433.2" y="163.5" width="3.2" height="101.5" fill="#ffff00" stroke="#8f8f00" stroke-width="0.5"/><rect x="441.9" y="163.5" width="1.3" height="101.5" fill="#a5a510"/><rect x="445.5" y="163.5" width="5" height="101.5" fill="#ffff00" stroke="#8f8f00" stroke-width="0.5"/><rect x="456.4" y="163.5" width="3.5" height="101.5" fill="#ffff00" stroke="#8f8f00" stroke-width="0.5"/><rect x="497" y="163.5" width="7.6" height="101.5" fill="#ffff00" stroke="#8f8f00" stroke-width="0.5"/><rect x="466.1" y="163.5" width="28.4" height="101.5" fill="#00ffff"/><clipPath id="c2"><rect x="38.2" y="163.5" width="499.1" height="101.5"/></clipPath><g clip-path="url(#c2)"><polyline points="355.5,212.6 358.2,218 364.4,233.6 367,232 369.5,224.7 371.2,211.3 376.2,184.4 378.9,179 381.3,193.8 383.4,206.7 387.8,223.1 390.5,228.3 392.6,236.2 395.3,232.7 401,205.3 403.5,196.1 406.9,186.5 413.1,228.3 416.6,228.8 426.2,220.5 428,216.1 430.3,195 432,181.8 437.1,199.4 439.4,209.5 444,227.4 451.5,236.2 454.1,219.6 455.9,212.6 460.5,189.5 463.1,197.7 465.4,218.3 494.6,193.6 505.4,229.4 507.5,208.9 509.6,204.2 512.2,198.7 514.6,188.6 517.2,189.1 519.5,199.6 522.3,214.6 524.8,225.7 527.4,234 529.8,232.1 532.3,239.5 534.6,226 536.6,217.4" fill="none" stroke="#000" stroke-width="0.4" /><polyline points="369.8,227.3 372.1,196.1 374.4,195.3 375.6,244.4 378.3,178.2 381.3,195.3 383.6,213.2 386,217.2 389.1,244.4 390.5,244 392.9,243.2 395.2,230.8 396.4,-400 399.3,177.6 402.1,207.6 403.5,222.2 406.7,187.9 409.1,206 411,205.3 413.7,232.9 416,218 418.3,216.8 420.6,229.6 422.9,216.6 426.2,236.2 427.5,206.9 430.4,193.5 432.2,187.6 434.5,200.7 436.8,191.8 439.1,208.2 441.4,209.3 443.7,231.7 446,240.9 448.3,226.3 450.7,246.1 453,233.8 455.3,213.8 458.5,227.4 459.9,202.4 462.2,194.2 464.2,185.8 466.8,221.3 469.1,224.1 471.4,243.4 473.8,245.2 476.1,250.2 478.4,236 480.7,223.9 483,213 485.3,207.6 487.6,191.1 489.9,196.4 492.2,199.5 494.6,199.4 496.9,206.3 499.2,214.4 501.1,234 503.8,227.2 506.1,215.9 508.5,220.1 510.7,194.9 512.2,211.8 515.3,184.4 517.7,191.2 520,201.4 522.3,214.4 524.6,222.7 526.9,233.2 529.2,238.8 531.5,237.4 533.8,232.4 536.1,204.2" fill="none" stroke="#ff2a2a" stroke-width="0.6" /><path d="M366.2 227.3L373.4 227.3M367.2 224.7L372.3 229.8M369.8 223.7L369.8 230.9M372.3 224.7L367.2 229.8M368.5 196.1L375.7 196.1M369.5 193.5L374.6 198.6M372.1 192.5L372.1 199.7M374.6 193.5L369.5 198.6M370.8 195.3L378 195.3M371.9 192.8L376.9 197.9M374.4 191.7L374.4 198.9M376.9 192.8L371.9 197.9M372 244.4L379.2 244.4M373.1 241.9L378.1 246.9M375.6 240.8L375.6 248M378.1 241.9L373.1 246.9M374.7 178.2L381.9 178.2M375.8 175.7L380.8 180.7M378.3 174.6L378.3 181.8M380.8 175.7L375.8 180.7M377.7 195.3L384.9 195.3M378.8 192.8L383.9 197.9M381.3 191.7L381.3 198.9M383.9 192.8L378.8 197.9M380 213.2L387.2 213.2M381.1 210.6L386.2 215.7M383.6 209.6L383.6 216.8M386.2 210.6L381.1 215.7M382.4 217.2L389.6 217.2M383.4 214.7L388.5 219.7M386 213.6L386 220.8M388.5 214.7L383.4 219.7M385.5 244.4L392.7 244.4M386.6 241.9L391.6 246.9M389.1 240.8L389.1 248M391.6 241.9L386.6 246.9M386.9 244L394.1 244M388 241.5L393 246.5M390.5 240.4L390.5 247.6M393 241.5L388 246.5M389.3 243.2L396.5 243.2M390.3 240.6L395.4 245.7M392.9 239.6L392.9 246.8M395.4 240.6L390.3 245.7M391.6 230.8L398.8 230.8M392.6 228.2L397.7 233.3M395.2 227.2L395.2 234.4M397.7 228.2L392.6 233.3M392.8 -400L400 -400M393.9 -402.5L398.9 -397.5M396.4 -403.6L396.4 -396.4M398.9 -402.5L393.9 -397.5M395.7 177.6L402.9 177.6M396.8 175.1L401.8 180.1M399.3 174L399.3 181.2M401.8 175.1L396.8 180.1M398.5 207.6L405.7 207.6M399.6 205L404.7 210.1M402.1 204L402.1 211.2M404.7 205L399.6 210.1M399.9 222.2L407.1 222.2M401 219.7L406 224.7M403.5 218.6L403.5 225.8M406 219.7L401 224.7M403.1 187.9L410.3 187.9M404.2 185.3L409.3 190.4M406.7 184.3L406.7 191.5M409.3 185.3L404.2 190.4M405.5 206L412.7 206M406.5 203.4L411.6 208.5M409.1 202.4L409.1 209.6M411.6 203.4L406.5 208.5M407.4 205.3L414.6 205.3M408.5 202.8L413.5 207.8M411 201.7L411 208.9M413.5 202.8L408.5 207.8M410.1 232.9L417.3 232.9M411.1 230.3L416.2 235.4M413.7 229.3L413.7 236.5M416.2 230.3L411.1 235.4M412.4 218L419.6 218M413.4 215.5L418.5 220.6M416 214.4L416 221.6M418.5 215.5L413.4 220.6M414.7 216.8L421.9 216.8M415.8 214.2L420.8 219.3M418.3 213.2L418.3 220.4M420.8 214.2L415.8 219.3M417 229.6L424.2 229.6M418.1 227.1L423.2 232.2M420.6 226L420.6 233.2M423.2 227.1L418.1 232.2M419.3 216.6L426.5 216.6M420.4 214L425.5 219.1M422.9 213L422.9 220.2M425.5 214L420.4 219.1M422.6 236.2L429.8 236.2M423.7 233.7L428.7 238.7M426.2 232.6L426.2 239.8M428.7 233.7L423.7 238.7M423.9 206.9L431.1 206.9M425 204.4L430.1 209.5M427.5 203.3L427.5 210.5M430.1 204.4L425 209.5M426.8 193.5L434 193.5M427.9 191L432.9 196M430.4 189.9L430.4 197.1M432.9 191L427.9 196M428.6 187.6L435.8 187.6M429.6 185.1L434.7 190.1M432.2 184L432.2 191.2M434.7 185.1L429.6 190.1M430.9 200.7L438.1 200.7M431.9 198.1L437 203.2M434.5 197.1L434.5 204.3M437 198.1L431.9 203.2M433.2 191.8L440.4 191.8M434.2 189.2L439.3 194.3M436.8 188.2L436.8 195.4M439.3 189.2L434.2 194.3M435.5 208.2L442.7 208.2M436.6 205.6L441.6 210.7M439.1 204.6L439.1 211.8M441.6 205.6L436.6 210.7M437.8 209.3L445 209.3M438.9 206.8L444 211.9M441.4 205.7L441.4 212.9M444 206.8L438.9 211.9M440.1 231.7L447.3 231.7M441.2 229.1L446.3 234.2M443.7 228.1L443.7 235.3M446.3 229.1L441.2 234.2M442.4 240.9L449.6 240.9M443.5 238.4L448.6 243.5M446 237.3L446 244.5M448.6 238.4L443.5 243.5M444.7 226.3L451.9 226.3M445.8 223.7L450.9 228.8M448.3 222.7L448.3 229.9M450.9 223.7L445.8 228.8M447.1 246.1L454.3 246.1M448.1 243.6L453.2 248.7M450.7 242.5L450.7 249.7M453.2 243.6L448.1 248.7M449.4 233.8L456.6 233.8M450.4 231.2L455.5 236.3M453 230.2L453 237.4M455.5 231.2L450.4 236.3M451.7 213.8L458.9 213.8M452.7 211.3L457.8 216.3M455.3 210.2L455.3 217.4M457.8 211.3L452.7 216.3M454.9 227.4L462.1 227.4M456 224.9L461 229.9M458.5 223.8L458.5 231M461 224.9L456 229.9M456.3 202.4L463.5 202.4M457.3 199.8L462.4 204.9M459.9 198.8L459.9 206M462.4 199.8L457.3 204.9M458.6 194.2L465.8 194.2M459.7 191.7L464.7 196.7M462.2 190.6L462.2 197.8M464.7 191.7L459.7 196.7M460.6 185.8L467.8 185.8M461.7 183.3L466.7 188.3M464.2 182.2L464.2 189.4M466.7 183.3L461.7 188.3M463.2 221.3L470.4 221.3M464.3 218.8L469.4 223.9M466.8 217.7L466.8 224.9M469.4 218.8L464.3 223.9M465.5 224.1L472.7 224.1M466.6 221.6L471.7 226.7M469.1 220.5L469.1 227.7M471.7 221.6L466.6 226.7M467.8 243.4L475 243.4M468.9 240.9L474 246M471.4 239.8L471.4 247M474 240.9L468.9 246M470.2 245.2L477.4 245.2M471.2 242.7L476.3 247.8M473.8 241.6L473.8 248.8M476.3 242.7L471.2 247.8M472.5 250.2L479.7 250.2M473.5 247.6L478.6 252.7M476.1 246.6L476.1 253.8M478.6 247.6L473.5 252.7M474.8 236L482 236M475.8 233.4L480.9 238.5M478.4 232.4L478.4 239.6M480.9 233.4L475.8 238.5M477.1 223.9L484.3 223.9M478.1 221.4L483.2 226.5M480.7 220.3L480.7 227.5M483.2 221.4L478.1 226.5M479.4 213L486.6 213M480.5 210.4L485.5 215.5M483 209.4L483 216.6M485.5 210.4L480.5 215.5M481.7 207.6L488.9 207.6M482.8 205L487.9 210.1M485.3 204L485.3 211.2M487.9 205L482.8 210.1M484 191.1L491.2 191.1M485.1 188.6L490.2 193.7M487.6 187.5L487.6 194.7M490.2 188.6L485.1 193.7M486.3 196.4L493.5 196.4M487.4 193.8L492.5 198.9M489.9 192.8L489.9 200M492.5 193.8L487.4 198.9M488.6 199.5L495.8 199.5M489.7 197L494.8 202.1M492.2 195.9L492.2 203.1M494.8 197L489.7 202.1M491 199.4L498.2 199.4M492 196.8L497.1 201.9M494.6 195.8L494.6 203M497.1 196.8L492 201.9M493.3 206.3L500.5 206.3M494.3 203.8L499.4 208.9M496.9 202.7L496.9 209.9M499.4 203.8L494.3 208.9M495.6 214.4L502.8 214.4M496.6 211.9L501.7 216.9M499.2 210.8L499.2 218M501.7 211.9L496.6 216.9M497.5 234L504.7 234M498.6 231.5L503.6 236.5M501.1 230.4L501.1 237.6M503.6 231.5L498.6 236.5M500.2 227.2L507.4 227.2M501.3 224.6L506.3 229.7M503.8 223.6L503.8 230.8M506.3 224.6L501.3 229.7M502.5 215.9L509.7 215.9M503.6 213.4L508.7 218.5M506.1 212.3L506.1 219.5M508.7 213.4L503.6 218.5M504.9 220.1L512.1 220.1M506 217.6L511 222.6M508.5 216.5L508.5 223.7M511 217.6L506 222.6M507.1 194.9L514.3 194.9M508.2 192.4L513.3 197.5M510.7 191.3L510.7 198.5M513.3 192.4L508.2 197.5M508.6 211.8L515.8 211.8M509.7 209.3L514.7 214.3M512.2 208.2L512.2 215.4M514.7 209.3L509.7 214.3M511.7 184.4L518.9 184.4M512.8 181.9L517.9 187M515.3 180.8L515.3 188M517.9 181.9L512.8 187M514.1 191.2L521.3 191.2M515.1 188.6L520.2 193.7M517.7 187.6L517.7 194.8M520.2 188.6L515.1 193.7M516.4 201.4L523.6 201.4M517.4 198.9L522.5 204M520 197.8L520 205M522.5 198.9L517.4 204M518.7 214.4L525.9 214.4M519.7 211.9L524.8 216.9M522.3 210.8L522.3 218M524.8 211.9L519.7 216.9M521 222.7L528.2 222.7M522 220.2L527.1 225.2M524.6 219.1L524.6 226.3M527.1 220.2L522 225.2M523.3 233.2L530.5 233.2M524.4 230.7L529.4 235.8M526.9 229.6L526.9 236.8M529.4 230.7L524.4 235.8M525.6 238.8L532.8 238.8M526.7 236.3L531.8 241.4M529.2 235.2L529.2 242.4M531.8 236.3L526.7 241.4M527.9 237.4L535.1 237.4M529 234.8L534.1 239.9M531.5 233.8L531.5 241M534.1 234.8L529 239.9M530.2 232.4L537.4 232.4M531.3 229.8L536.4 234.9M533.8 228.8L533.8 236M536.4 229.8L531.3 234.9M532.5 204.2L539.7 204.2M533.6 201.7L538.6 206.7M536.1 200.6L536.1 207.8M538.6 201.7L533.6 206.7" stroke="#ff2a2a" stroke-width="0.6" fill="none"/><polyline points="369.6,226.2 371.8,206.4 373.9,197.2 375.9,197.8 378.2,181.8 381,192.4 383.2,206 386.4,215.3 388.7,232 390.5,233.4 392.5,238.4 395.6,235.5 396,210 399.8,201.8 401.8,209.1 404,213 406.7,193.8 408.9,205.5 411.4,206.1 413.3,226.6 416.3,224.4 418.6,225.6 420.9,228.1 422.8,222.2 426.2,226.4 427.3,213.6 430.6,194.6 432.2,184.2 434.7,200.5 436.4,196.7 439.2,204.2 441.2,212.4 443.6,226 446.2,233.2 448.3,229.1 450.8,240.4 453,230.5 455.6,219.6 458.5,213 459.5,200 461.8,193.4 464.1,198.3 496.9,207.6 498.8,212.4 501.3,224.3 503.3,221.9 506.1,214.3 508.1,217.8 511.1,203.6 512.5,204.5 515,190.3 518.1,190.8 520.4,204.5 522.7,219 524.2,220.9 526.6,236.8 529.6,234.5 531.2,242.7 533.8,233.1 535.9,211.7" fill="none" stroke="#ff60ff" stroke-width="0.4" /><polyline points="45.5,182.7 47.7,196.6 55.2,224.9 57.6,237.9 59.7,231.9 62.2,228.9 64.6,214.7 66.7,201.1 69.7,198.7 71.8,195.7 73.6,191.1 75.7,201.7 80.3,222.8 83.3,224.3 85.4,234.9 87.8,240.9 89.9,238.8 91.7,221.3 93.8,214.7 96.9,206.2 99.3,198.7 101.4,193.5 103.8,200.2 105.9,218.3 108,230.4 110.3,233 112.7,239.5 115.4,237.4 117.5,232 120.2,223.4 122.1,207.8 124.8,196.5 126.7,201.9 129.4,200.5 131.5,214 133.7,226.1 135.5,234.1 138.2,237.4 140.9,241.7 143.6,240.9 146.3,239 148.3,232 150.3,223.4 152.5,215.3 154.4,206.7 157,201.3 159.7,213.2 161.6,214.8 163.8,235.5 166.5,239.5 169.1,243.5 171.3,248.1 173.2,234.1 175.1,218.5 177.2,198.7 179.9,184.4 182,189 184.7,185.8 187.4,200.5 189.3,215.3 192,222.8 193.9,222.8 196,232 198.7,239 200.9,235.5 203,219.4 205.4,208.6 207.7,197.8 209.8,189 212.5,187.9 214.4,203.2 217.1,215.9 219.8,222.8 221.7,230.1 223.8,236.3 226,243.5 228.7,234.7 230.5,214.8 232.4,210.5 235.1,204 237.8,187.9 239.9,187.1 242.6,203.2 244.8,212.1 246.7,223.4 249.4,225.5 252,231.5 253.9,235.5 256.1,230.9 258.2,207.8 260.9,191.7 262.8,191.7 265.5,180.4 267.4,186.3 270.1,194.4 272.2,201.3 274.4,212.6 276.2,220.7 278.1,222.8 280.8,232 283.8,228.8 286.2,218 291.6,197 293.6,187.9 295.9,194.4 297.9,200.5 303.1,225.5 305.8,226.1 307.9,228.8 310.6,234.1 314.9,205.1 317,195.2 319.2,195.2 321.3,188.4 328,203.2 329.9,231.5 332.6,225.5 335,230.1 340.2,232.8 342,214.8 343.9,206.7 346.6,193.3 351.5,182.5 353.3,201.3 355.5,212.6 358.2,218 364.4,233.6 367,232 369.8,226 372.1,203.3 374.4,204.1 376.7,175.9 379,172.1 381.3,193.4 383.6,205.1 386,218.6 388.3,221.7 390.6,232.4 392.9,233.8 395.2,234.3 397.5,227 399.8,225 402.1,203.2 404.4,192.3 406.7,186.6 409.1,201 411.4,211.8 413.7,232.1 416,232.9 418.3,229.6 420.6,225.4 422.9,232.6 425.2,222.6 427.5,221.7 429.9,204.1 432.2,186.9 434.5,190.4 436.8,190.8 439.1,206.9 441.4,211.2 443.7,227 446,227.2 448.3,232.4 450.7,236.7 453,222.6 455.3,214.5 457.6,191.9 459.9,196.8 462.2,195.1 464.5,210 466.8,218.4 469.1,225.6 471.4,239.4 473.8,245.3 476.1,245.7 478.4,237.6 480.7,225.2 483,212.9 485.3,204.8 487.6,190.6 489.9,191.5 492.2,194.5 494.6,190.8 496.9,199.2 499.2,207.2 501.5,216.4 503.8,220.6 506.1,222.7 508.4,199.4 510.7,205.1 513,199.2 515.3,194.1 517.7,194.1 520,203.1 522.3,217.7 524.6,226.5 526.9,232 529.2,230.4 531.5,234.3 533.8,228.9 536.1,219.8" fill="none" stroke="#ff40ff" stroke-width="0.5" /><g fill="none" stroke="#ff40ff" stroke-width="0.7"><circle cx="45.5" cy="182.7" r="2.7"/><circle cx="47.7" cy="196.6" r="2.7"/><circle cx="55.2" cy="224.9" r="2.7"/><circle cx="57.6" cy="237.9" r="2.7"/><circle cx="59.7" cy="231.9" r="2.7"/><circle cx="62.2" cy="228.9" r="2.7"/><circle cx="64.6" cy="214.7" r="2.7"/><circle cx="66.7" cy="201.1" r="2.7"/><circle cx="69.7" cy="198.7" r="2.7"/><circle cx="71.8" cy="195.7" r="2.7"/><circle cx="73.6" cy="191.1" r="2.7"/><circle cx="75.7" cy="201.7" r="2.7"/><circle cx="80.3" cy="222.8" r="2.7"/><circle cx="83.3" cy="224.3" r="2.7"/><circle cx="85.4" cy="234.9" r="2.7"/><circle cx="87.8" cy="240.9" r="2.7"/><circle cx="89.9" cy="238.8" r="2.7"/><circle cx="91.7" cy="221.3" r="2.7"/><circle cx="93.8" cy="214.7" r="2.7"/><circle cx="96.9" cy="206.2" r="2.7"/><circle cx="99.3" cy="198.7" r="2.7"/><circle cx="101.4" cy="193.5" r="2.7"/><circle cx="103.8" cy="200.2" r="2.7"/><circle cx="105.9" cy="218.3" r="2.7"/><circle cx="108" cy="230.4" r="2.7"/><circle cx="110.3" cy="233" r="2.7"/><circle cx="112.7" cy="239.5" r="2.7"/><circle cx="115.4" cy="237.4" r="2.7"/><circle cx="117.5" cy="232" r="2.7"/><circle cx="120.2" cy="223.4" r="2.7"/><circle cx="122.1" cy="207.8" r="2.7"/><circle cx="124.8" cy="196.5" r="2.7"/><circle cx="126.7" cy="201.9" r="2.7"/><circle cx="129.4" cy="200.5" r="2.7"/><circle cx="131.5" cy="214" r="2.7"/><circle cx="133.7" cy="226.1" r="2.7"/><circle cx="135.5" cy="234.1" r="2.7"/><circle cx="138.2" cy="237.4" r="2.7"/><circle cx="140.9" cy="241.7" r="2.7"/><circle cx="143.6" cy="240.9" r="2.7"/><circle cx="146.3" cy="239" r="2.7"/><circle cx="148.3" cy="232" r="2.7"/><circle cx="150.3" cy="223.4" r="2.7"/><circle cx="152.5" cy="215.3" r="2.7"/><circle cx="154.4" cy="206.7" r="2.7"/><circle cx="157" cy="201.3" r="2.7"/><circle cx="159.7" cy="213.2" r="2.7"/><circle cx="161.6" cy="214.8" r="2.7"/><circle cx="163.8" cy="235.5" r="2.7"/><circle cx="166.5" cy="239.5" r="2.7"/><circle cx="169.1" cy="243.5" r="2.7"/><circle cx="171.3" cy="248.1" r="2.7"/><circle cx="173.2" cy="234.1" r="2.7"/><circle cx="175.1" cy="218.5" r="2.7"/><circle cx="177.2" cy="198.7" r="2.7"/><circle cx="179.9" cy="184.4" r="2.7"/><circle cx="182" cy="189" r="2.7"/><circle cx="184.7" cy="185.8" r="2.7"/><circle cx="187.4" cy="200.5" r="2.7"/><circle cx="189.3" cy="215.3" r="2.7"/><circle cx="192" cy="222.8" r="2.7"/><circle cx="193.9" cy="222.8" r="2.7"/><circle cx="196" cy="232" r="2.7"/><circle cx="198.7" cy="239" r="2.7"/><circle cx="200.9" cy="235.5" r="2.7"/><circle cx="203" cy="219.4" r="2.7"/><circle cx="205.4" cy="208.6" r="2.7"/><circle cx="207.7" cy="197.8" r="2.7"/><circle cx="209.8" cy="189" r="2.7"/><circle cx="212.5" cy="187.9" r="2.7"/><circle cx="214.4" cy="203.2" r="2.7"/><circle cx="217.1" cy="215.9" r="2.7"/><circle cx="219.8" cy="222.8" r="2.7"/><circle cx="221.7" cy="230.1" r="2.7"/><circle cx="223.8" cy="236.3" r="2.7"/><circle cx="226" cy="243.5" r="2.7"/><circle cx="228.7" cy="234.7" r="2.7"/><circle cx="230.5" cy="214.8" r="2.7"/><circle cx="232.4" cy="210.5" r="2.7"/><circle cx="235.1" cy="204" r="2.7"/><circle cx="237.8" cy="187.9" r="2.7"/><circle cx="239.9" cy="187.1" r="2.7"/><circle cx="242.6" cy="203.2" r="2.7"/><circle cx="244.8" cy="212.1" r="2.7"/><circle cx="246.7" cy="223.4" r="2.7"/><circle cx="249.4" cy="225.5" r="2.7"/><circle cx="252" cy="231.5" r="2.7"/><circle cx="253.9" cy="235.5" r="2.7"/><circle cx="256.1" cy="230.9" r="2.7"/><circle cx="258.2" cy="207.8" r="2.7"/><circle cx="260.9" cy="191.7" r="2.7"/><circle cx="262.8" cy="191.7" r="2.7"/><circle cx="265.5" cy="180.4" r="2.7"/><circle cx="267.4" cy="186.3" r="2.7"/><circle cx="270.1" cy="194.4" r="2.7"/><circle cx="272.2" cy="201.3" r="2.7"/><circle cx="274.4" cy="212.6" r="2.7"/><circle cx="276.2" cy="220.7" r="2.7"/><circle cx="278.1" cy="222.8" r="2.7"/><circle cx="280.8" cy="232" r="2.7"/><circle cx="283.8" cy="228.8" r="2.7"/><circle cx="286.2" cy="218" r="2.7"/><circle cx="291.6" cy="197" r="2.7"/><circle cx="293.6" cy="187.9" r="2.7"/><circle cx="295.9" cy="194.4" r="2.7"/><circle cx="297.9" cy="200.5" r="2.7"/><circle cx="303.1" cy="225.5" r="2.7"/><circle cx="305.8" cy="226.1" r="2.7"/><circle cx="307.9" cy="228.8" r="2.7"/><circle cx="310.6" cy="234.1" r="2.7"/><circle cx="314.9" cy="205.1" r="2.7"/><circle cx="317" cy="195.2" r="2.7"/><circle cx="319.2" cy="195.2" r="2.7"/><circle cx="321.3" cy="188.4" r="2.7"/><circle cx="328" cy="203.2" r="2.7"/><circle cx="329.9" cy="231.5" r="2.7"/><circle cx="332.6" cy="225.5" r="2.7"/><circle cx="335" cy="230.1" r="2.7"/><circle cx="340.2" cy="232.8" r="2.7"/><circle cx="342" cy="214.8" r="2.7"/><circle cx="343.9" cy="206.7" r="2.7"/><circle cx="346.6" cy="193.3" r="2.7"/><circle cx="351.5" cy="182.5" r="2.7"/><circle cx="353.3" cy="201.3" r="2.7"/><circle cx="355.5" cy="212.6" r="2.7"/><circle cx="358.2" cy="218" r="2.7"/><circle cx="364.4" cy="233.6" r="2.7"/><circle cx="367" cy="232" r="2.7"/><circle cx="369.8" cy="226" r="2.7"/><circle cx="372.1" cy="203.3" r="2.7"/><circle cx="374.4" cy="204.1" r="2.7"/><circle cx="376.7" cy="175.9" r="2.7"/><circle cx="379" cy="172.1" r="2.7"/><circle cx="381.3" cy="193.4" r="2.7"/><circle cx="383.6" cy="205.1" r="2.7"/><circle cx="386" cy="218.6" r="2.7"/><circle cx="388.3" cy="221.7" r="2.7"/><circle cx="390.6" cy="232.4" r="2.7"/><circle cx="392.9" cy="233.8" r="2.7"/><circle cx="395.2" cy="234.3" r="2.7"/><circle cx="397.5" cy="227" r="2.7"/><circle cx="399.8" cy="225" r="2.7"/><circle cx="402.1" cy="203.2" r="2.7"/><circle cx="404.4" cy="192.3" r="2.7"/><circle cx="406.7" cy="186.6" r="2.7"/><circle cx="409.1" cy="201" r="2.7"/><circle cx="411.4" cy="211.8" r="2.7"/><circle cx="413.7" cy="232.1" r="2.7"/><circle cx="416" cy="232.9" r="2.7"/><circle cx="418.3" cy="229.6" r="2.7"/><circle cx="420.6" cy="225.4" r="2.7"/><circle cx="422.9" cy="232.6" r="2.7"/><circle cx="425.2" cy="222.6" r="2.7"/><circle cx="427.5" cy="221.7" r="2.7"/><circle cx="429.9" cy="204.1" r="2.7"/><circle cx="432.2" cy="186.9" r="2.7"/><circle cx="434.5" cy="190.4" r="2.7"/><circle cx="436.8" cy="190.8" r="2.7"/><circle cx="439.1" cy="206.9" r="2.7"/><circle cx="441.4" cy="211.2" r="2.7"/><circle cx="443.7" cy="227" r="2.7"/><circle cx="446" cy="227.2" r="2.7"/><circle cx="448.3" cy="232.4" r="2.7"/><circle cx="450.7" cy="236.7" r="2.7"/><circle cx="453" cy="222.6" r="2.7"/><circle cx="455.3" cy="214.5" r="2.7"/><circle cx="457.6" cy="191.9" r="2.7"/><circle cx="459.9" cy="196.8" r="2.7"/><circle cx="462.2" cy="195.1" r="2.7"/><circle cx="464.5" cy="210" r="2.7"/><circle cx="466.8" cy="218.4" r="2.7"/><circle cx="469.1" cy="225.6" r="2.7"/><circle cx="471.4" cy="239.4" r="2.7"/><circle cx="473.8" cy="245.3" r="2.7"/><circle cx="476.1" cy="245.7" r="2.7"/><circle cx="478.4" cy="237.6" r="2.7"/><circle cx="480.7" cy="225.2" r="2.7"/><circle cx="483" cy="212.9" r="2.7"/><circle cx="485.3" cy="204.8" r="2.7"/><circle cx="487.6" cy="190.6" r="2.7"/><circle cx="489.9" cy="191.5" r="2.7"/><circle cx="492.2" cy="194.5" r="2.7"/><circle cx="494.6" cy="190.8" r="2.7"/><circle cx="496.9" cy="199.2" r="2.7"/><circle cx="499.2" cy="207.2" r="2.7"/><circle cx="501.5" cy="216.4" r="2.7"/><circle cx="503.8" cy="220.6" r="2.7"/><circle cx="506.1" cy="222.7" r="2.7"/><circle cx="508.4" cy="199.4" r="2.7"/><circle cx="510.7" cy="205.1" r="2.7"/><circle cx="513" cy="199.2" r="2.7"/><circle cx="515.3" cy="194.1" r="2.7"/><circle cx="517.7" cy="194.1" r="2.7"/><circle cx="520" cy="203.1" r="2.7"/><circle cx="522.3" cy="217.7" r="2.7"/><circle cx="524.6" cy="226.5" r="2.7"/><circle cx="526.9" cy="232" r="2.7"/><circle cx="529.2" cy="230.4" r="2.7"/><circle cx="531.5" cy="234.3" r="2.7"/><circle cx="533.8" cy="228.9" r="2.7"/><circle cx="536.1" cy="219.8" r="2.7"/><circle cx="369.6" cy="226.2" r="3.0"/><circle cx="373.9" cy="197.2" r="3.0"/><circle cx="378.2" cy="181.8" r="3.0"/><circle cx="383.2" cy="206" r="3.0"/><circle cx="388.7" cy="232" r="3.0"/><circle cx="392.5" cy="238.4" r="3.0"/><circle cx="396" cy="210" r="3.0"/><circle cx="401.8" cy="209.1" r="3.0"/><circle cx="406.7" cy="193.8" r="3.0"/><circle cx="411.4" cy="206.1" r="3.0"/><circle cx="416.3" cy="224.4" r="3.0"/><circle cx="420.9" cy="228.1" r="3.0"/><circle cx="426.2" cy="226.4" r="3.0"/><circle cx="430.6" cy="194.6" r="3.0"/><circle cx="434.7" cy="200.5" r="3.0"/><circle cx="439.2" cy="204.2" r="3.0"/><circle cx="443.6" cy="226" r="3.0"/><circle cx="448.3" cy="229.1" r="3.0"/><circle cx="453" cy="230.5" r="3.0"/><circle cx="458.5" cy="213" r="3.0"/><circle cx="461.8" cy="193.4" r="3.0"/><circle cx="496.9" cy="207.6" r="3.0"/><circle cx="501.3" cy="224.3" r="3.0"/><circle cx="506.1" cy="214.3" r="3.0"/><circle cx="511.1" cy="203.6" r="3.0"/><circle cx="515" cy="190.3" r="3.0"/><circle cx="520.4" cy="204.5" r="3.0"/><circle cx="524.2" cy="220.9" r="3.0"/><circle cx="529.6" cy="234.5" r="3.0"/><circle cx="533.8" cy="233.1" r="3.0"/></g><g fill="#2a002a"><circle cx="45.5" cy="182.7" r="1.2"/><circle cx="47.7" cy="196.6" r="1.2"/><circle cx="55.2" cy="224.9" r="1.2"/><circle cx="57.6" cy="237.9" r="1.2"/><circle cx="59.7" cy="231.9" r="1.2"/><circle cx="62.2" cy="228.9" r="1.2"/><circle cx="64.6" cy="214.7" r="1.2"/><circle cx="66.7" cy="201.1" r="1.2"/><circle cx="69.7" cy="198.7" r="1.2"/><circle cx="71.8" cy="195.7" r="1.2"/><circle cx="73.6" cy="191.1" r="1.2"/><circle cx="75.7" cy="201.7" r="1.2"/><circle cx="80.3" cy="222.8" r="1.2"/><circle cx="83.3" cy="224.3" r="1.2"/><circle cx="85.4" cy="234.9" r="1.2"/><circle cx="87.8" cy="240.9" r="1.2"/><circle cx="89.9" cy="238.8" r="1.2"/><circle cx="91.7" cy="221.3" r="1.2"/><circle cx="93.8" cy="214.7" r="1.2"/><circle cx="96.9" cy="206.2" r="1.2"/><circle cx="99.3" cy="198.7" r="1.2"/><circle cx="101.4" cy="193.5" r="1.2"/><circle cx="103.8" cy="200.2" r="1.2"/><circle cx="105.9" cy="218.3" r="1.2"/><circle cx="108" cy="230.4" r="1.2"/><circle cx="110.3" cy="233" r="1.2"/><circle cx="112.7" cy="239.5" r="1.2"/><circle cx="115.4" cy="237.4" r="1.2"/><circle cx="117.5" cy="232" r="1.2"/><circle cx="120.2" cy="223.4" r="1.2"/><circle cx="122.1" cy="207.8" r="1.2"/><circle cx="124.8" cy="196.5" r="1.2"/><circle cx="126.7" cy="201.9" r="1.2"/><circle cx="129.4" cy="200.5" r="1.2"/><circle cx="131.5" cy="214" r="1.2"/><circle cx="133.7" cy="226.1" r="1.2"/><circle cx="135.5" cy="234.1" r="1.2"/><circle cx="138.2" cy="237.4" r="1.2"/><circle cx="140.9" cy="241.7" r="1.2"/><circle cx="143.6" cy="240.9" r="1.2"/><circle cx="146.3" cy="239" r="1.2"/><circle cx="148.3" cy="232" r="1.2"/><circle cx="150.3" cy="223.4" r="1.2"/><circle cx="152.5" cy="215.3" r="1.2"/><circle cx="154.4" cy="206.7" r="1.2"/><circle cx="157" cy="201.3" r="1.2"/><circle cx="159.7" cy="213.2" r="1.2"/><circle cx="161.6" cy="214.8" r="1.2"/><circle cx="163.8" cy="235.5" r="1.2"/><circle cx="166.5" cy="239.5" r="1.2"/><circle cx="169.1" cy="243.5" r="1.2"/><circle cx="171.3" cy="248.1" r="1.2"/><circle cx="173.2" cy="234.1" r="1.2"/><circle cx="175.1" cy="218.5" r="1.2"/><circle cx="177.2" cy="198.7" r="1.2"/><circle cx="179.9" cy="184.4" r="1.2"/><circle cx="182" cy="189" r="1.2"/><circle cx="184.7" cy="185.8" r="1.2"/><circle cx="187.4" cy="200.5" r="1.2"/><circle cx="189.3" cy="215.3" r="1.2"/><circle cx="192" cy="222.8" r="1.2"/><circle cx="193.9" cy="222.8" r="1.2"/><circle cx="196" cy="232" r="1.2"/><circle cx="198.7" cy="239" r="1.2"/><circle cx="200.9" cy="235.5" r="1.2"/><circle cx="203" cy="219.4" r="1.2"/><circle cx="205.4" cy="208.6" r="1.2"/><circle cx="207.7" cy="197.8" r="1.2"/><circle cx="209.8" cy="189" r="1.2"/><circle cx="212.5" cy="187.9" r="1.2"/><circle cx="214.4" cy="203.2" r="1.2"/><circle cx="217.1" cy="215.9" r="1.2"/><circle cx="219.8" cy="222.8" r="1.2"/><circle cx="221.7" cy="230.1" r="1.2"/><circle cx="223.8" cy="236.3" r="1.2"/><circle cx="226" cy="243.5" r="1.2"/><circle cx="228.7" cy="234.7" r="1.2"/><circle cx="230.5" cy="214.8" r="1.2"/><circle cx="232.4" cy="210.5" r="1.2"/><circle cx="235.1" cy="204" r="1.2"/><circle cx="237.8" cy="187.9" r="1.2"/><circle cx="239.9" cy="187.1" r="1.2"/><circle cx="242.6" cy="203.2" r="1.2"/><circle cx="244.8" cy="212.1" r="1.2"/><circle cx="246.7" cy="223.4" r="1.2"/><circle cx="249.4" cy="225.5" r="1.2"/><circle cx="252" cy="231.5" r="1.2"/><circle cx="253.9" cy="235.5" r="1.2"/><circle cx="256.1" cy="230.9" r="1.2"/><circle cx="258.2" cy="207.8" r="1.2"/><circle cx="260.9" cy="191.7" r="1.2"/><circle cx="262.8" cy="191.7" r="1.2"/><circle cx="265.5" cy="180.4" r="1.2"/><circle cx="267.4" cy="186.3" r="1.2"/><circle cx="270.1" cy="194.4" r="1.2"/><circle cx="272.2" cy="201.3" r="1.2"/><circle cx="274.4" cy="212.6" r="1.2"/><circle cx="276.2" cy="220.7" r="1.2"/><circle cx="278.1" cy="222.8" r="1.2"/><circle cx="280.8" cy="232" r="1.2"/><circle cx="283.8" cy="228.8" r="1.2"/><circle cx="286.2" cy="218" r="1.2"/><circle cx="291.6" cy="197" r="1.2"/><circle cx="293.6" cy="187.9" r="1.2"/><circle cx="295.9" cy="194.4" r="1.2"/><circle cx="297.9" cy="200.5" r="1.2"/><circle cx="303.1" cy="225.5" r="1.2"/><circle cx="305.8" cy="226.1" r="1.2"/><circle cx="307.9" cy="228.8" r="1.2"/><circle cx="310.6" cy="234.1" r="1.2"/><circle cx="314.9" cy="205.1" r="1.2"/><circle cx="317" cy="195.2" r="1.2"/><circle cx="319.2" cy="195.2" r="1.2"/><circle cx="321.3" cy="188.4" r="1.2"/><circle cx="328" cy="203.2" r="1.2"/><circle cx="329.9" cy="231.5" r="1.2"/><circle cx="332.6" cy="225.5" r="1.2"/><circle cx="335" cy="230.1" r="1.2"/><circle cx="340.2" cy="232.8" r="1.2"/><circle cx="342" cy="214.8" r="1.2"/><circle cx="343.9" cy="206.7" r="1.2"/><circle cx="346.6" cy="193.3" r="1.2"/><circle cx="351.5" cy="182.5" r="1.2"/><circle cx="353.3" cy="201.3" r="1.2"/><circle cx="355.5" cy="212.6" r="1.2"/><circle cx="358.2" cy="218" r="1.2"/><circle cx="364.4" cy="233.6" r="1.2"/><circle cx="367" cy="232" r="1.2"/><circle cx="369.5" cy="224.7" r="1.2"/><circle cx="371.2" cy="211.3" r="1.2"/><circle cx="376.2" cy="184.4" r="1.2"/><circle cx="378.9" cy="179" r="1.2"/><circle cx="381.3" cy="193.8" r="1.2"/><circle cx="383.4" cy="206.7" r="1.2"/><circle cx="387.8" cy="223.1" r="1.2"/><circle cx="390.5" cy="228.3" r="1.2"/><circle cx="392.6" cy="236.2" r="1.2"/><circle cx="395.3" cy="232.7" r="1.2"/><circle cx="401" cy="205.3" r="1.2"/><circle cx="403.5" cy="196.1" r="1.2"/><circle cx="406.9" cy="186.5" r="1.2"/><circle cx="413.1" cy="228.3" r="1.2"/><circle cx="416.6" cy="228.8" r="1.2"/><circle cx="426.2" cy="220.5" r="1.2"/><circle cx="428" cy="216.1" r="1.2"/><circle cx="430.3" cy="195" r="1.2"/><circle cx="432" cy="181.8" r="1.2"/><circle cx="437.1" cy="199.4" r="1.2"/><circle cx="439.4" cy="209.5" r="1.2"/><circle cx="444" cy="227.4" r="1.2"/><circle cx="451.5" cy="236.2" r="1.2"/><circle cx="454.1" cy="219.6" r="1.2"/><circle cx="455.9" cy="212.6" r="1.2"/><circle cx="460.5" cy="189.5" r="1.2"/><circle cx="463.1" cy="197.7" r="1.2"/><circle cx="465.4" cy="218.3" r="1.2"/><circle cx="494.6" cy="193.6" r="1.2"/><circle cx="505.4" cy="229.4" r="1.2"/><circle cx="507.5" cy="208.9" r="1.2"/><circle cx="509.6" cy="204.2" r="1.2"/><circle cx="512.2" cy="198.7" r="1.2"/><circle cx="514.6" cy="188.6" r="1.2"/><circle cx="517.2" cy="189.1" r="1.2"/><circle cx="519.5" cy="199.6" r="1.2"/><circle cx="522.3" cy="214.6" r="1.2"/><circle cx="524.8" cy="225.7" r="1.2"/><circle cx="527.4" cy="234" r="1.2"/><circle cx="529.8" cy="232.1" r="1.2"/><circle cx="532.3" cy="239.5" r="1.2"/><circle cx="534.6" cy="226" r="1.2"/><circle cx="536.6" cy="217.4" r="1.2"/></g></g><rect x="38.2" y="163.5" width="499.1" height="101.5" fill="none" stroke="#b4b4b4" stroke-width="0.9"/><path d="M38.2 265v-4.5M38.2 163.5v4.5M93.7 265v-4.5M93.7 163.5v4.5M149.1 265v-4.5M149.1 163.5v4.5M204.6 265v-4.5M204.6 163.5v4.5M260 265v-4.5M260 163.5v4.5M315.5 265v-4.5M315.5 163.5v4.5M370.9 265v-4.5M370.9 163.5v4.5M426.4 265v-4.5M426.4 163.5v4.5M481.8 265v-4.5M481.8 163.5v4.5M537.3 265v-4.5M537.3 163.5v4.5M38.2 163.5h4.5M537.3 163.5h-4.5M38.2 188.9h4.5M537.3 188.9h-4.5M38.2 214.2h4.5M537.3 214.2h-4.5M38.2 239.6h4.5M537.3 239.6h-4.5M38.2 265h4.5M537.3 265h-4.5" stroke="#707070" stroke-width="0.6" fill="none"/><text x="34" y="167.2" text-anchor="end" class="t">400</text><text x="34" y="192.6" text-anchor="end" class="t">200</text><text x="34" y="217.9" text-anchor="end" class="t">0</text><text x="34" y="243.3" text-anchor="end" class="t">-200</text><text x="34" y="268.7" text-anchor="end" class="t">-400</text><text x="38.2" y="277.6" text-anchor="middle" class="t">2002</text><text x="93.7" y="277.6" text-anchor="middle" class="t">2004</text><text x="149.1" y="277.6" text-anchor="middle" class="t">2006</text><text x="204.6" y="277.6" text-anchor="middle" class="t">2008</text><text x="260" y="277.6" text-anchor="middle" class="t">2010</text><text x="315.5" y="277.6" text-anchor="middle" class="t">2012</text><text x="370.9" y="277.6" text-anchor="middle" class="t">2014</text><text x="426.4" y="277.6" text-anchor="middle" class="t">2016</text><text x="481.8" y="277.6" text-anchor="middle" class="t">2018</text><text x="537.3" y="277.6" text-anchor="middle" class="t">2020</text><text x="262.5" y="291.8" class="l">Time [year]</text><text transform="translate(10.5,213.2) rotate(-90)" text-anchor="middle" class="y">TWSC [mm]</text><text x="93" y="178.9" class="b">Lat: -9.5 and Lon: 24.5</text>
<rect x="42.3" y="4.5" width="486" height="13.7" fill="#fff" stroke="#a3a3a3" stroke-width="0.8"/><rect x="44" y="6.9" width="20.3" height="9.2" fill="#00ffff" stroke="#7a9a9a" stroke-width="0.4"/><text x="65.8" y="14.7" class="g">Gap between GRACE &amp; GRACE-FO</text><rect x="222.9" y="6.9" width="20.2" height="9.2" fill="#ffff00" stroke="#9a9a60" stroke-width="0.4"/><text x="244.2" y="14.7" class="g">GRACE gaps</text><path d="M305.3 11.5H323.8" stroke="#666" stroke-width="0.5"/><circle cx="314.6" cy="11.5" r="1.1" fill="#000"/><text x="326.8" y="14.7" class="g">GRACE(-FO)</text><path d="M386.8 11.5H407" stroke="#ff7070" stroke-width="0.5"/><path d="M394.9 11.5L398.9 11.5M395.5 10.1L398.3 12.9M396.9 9.5L396.9 13.5M398.3 10.1L395.5 12.9" stroke="#ff3030" stroke-width="0.5"/><text x="408.4" y="14.7" class="g">Swarm</text><path d="M442 11.5H462.4" stroke="#ff00ff" stroke-width="0.6"/><circle cx="451.9" cy="11.5" r="3.1" fill="none" stroke="#ff30ff" stroke-width="0.6"/><text x="462.9" y="14.7" class="g">Reconstruction</text>
</svg>
</body></html>
